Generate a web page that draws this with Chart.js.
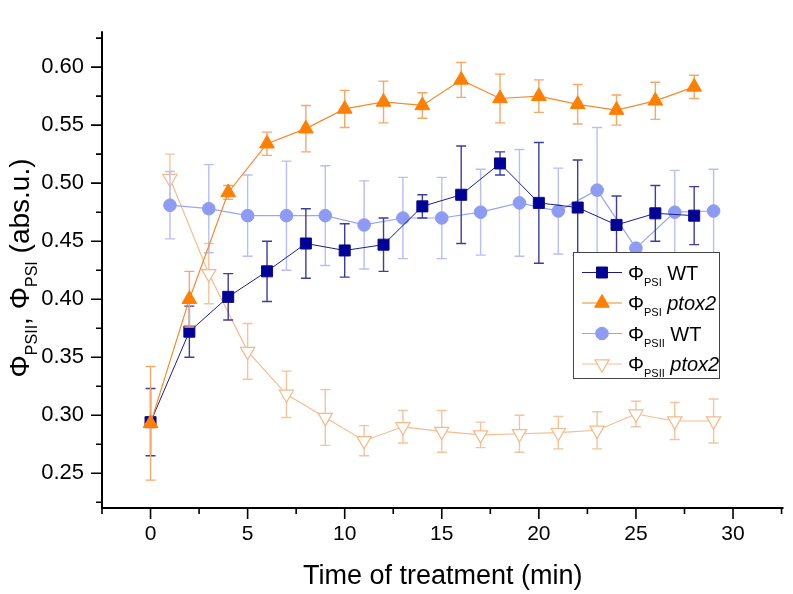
<!DOCTYPE html>
<html>
<head>
<meta charset="utf-8">
<script src="https://cdn.jsdelivr.net/npm/chart.js@4.4.1/dist/chart.umd.min.js"></script>
<style>
  html, body { margin: 0; padding: 0; background: #fff; }
  #wrap { width: 793px; height: 594px; }
</style>
</head>
<body>
<div id="wrap"><canvas id="chart" width="793" height="594"></canvas></div>
<script>
// time points (min)
const timePSI = [0, 2, 4, 6, 8, 10, 12, 14, 16, 18, 20, 22, 24, 26, 28];
const timePSII = [1, 3, 5, 7, 9, 11, 13, 15, 17, 19, 21, 23, 25, 27, 29];

// Φ PSI
const psiWT = [0.294, 0.372, 0.402, 0.424, 0.448, 0.442, 0.447, 0.480, 0.490, 0.517, 0.483, 0.479, 0.464, 0.474, 0.472];
const psiWTErr = [0.029, 0.022, 0.020, 0.026, 0.030, 0.023, 0.023, 0.010, 0.042, 0.010, 0.052, 0.041, 0.025, 0.024, 0.025];
const psiPtox2 = [0.293, 0.400, 0.492, 0.534, 0.547, 0.564, 0.570, 0.567, 0.589, 0.573, 0.575, 0.568, 0.563, 0.571, 0.583];
const psiPtox2Err = [0.049, 0.024, 0.006, 0.010, 0.020, 0.016, 0.018, 0.011, 0.015, 0.021, 0.014, 0.017, 0.013, 0.016, 0.010];

// Φ PSII
const psiiWT = [0.481, 0.478, 0.472, 0.472, 0.472, 0.464, 0.470, 0.470, 0.475, 0.483, 0.476, 0.494, 0.444, 0.475, 0.476];
const psiiWTErr = [0.029, 0.038, 0.035, 0.047, 0.043, 0.038, 0.035, 0.035, 0.037, 0.046, 0.037, 0.054, 0, 0.036, 0.036];
const psiiPtox2 = [0.504, 0.422, 0.355, 0.318, 0.298, 0.278, 0.290, 0.286, 0.283, 0.284, 0.285, 0.287, 0.301, 0.295, 0.295];
const psiiPtox2Err = [0.021, 0.026, 0.024, 0.020, 0.024, 0.013, 0.014, 0.018, 0.011, 0.016, 0.014, 0.016, 0.011, 0.016, 0.019];

// axis ticks
const xTicks = [0, 5, 10, 15, 20, 25, 30];
const xMinorTicks = [-2.5, 2.5, 7.5, 12.5, 17.5, 22.5, 27.5, 32.5];
const yTicks = [0.25, 0.30, 0.35, 0.40, 0.45, 0.50, 0.55, 0.60];
const yMinorTicks = [0.225, 0.275, 0.325, 0.375, 0.425, 0.475, 0.525, 0.575, 0.625];

const FONT = '"Liberation Sans", Arial, sans-serif';

function pts(xs, ys) {
    return xs.map((x, i) => ({ x: x, y: ys[i] }));
}

const datasets = [
    {
        label: 'PSI WT', sub: 'PSI', name: 'WT', italic: false,
        data: pts(timePSI, psiWT), err: psiWTErr, errColor: '#3d3d9e',
        borderColor: '#1c1c8c', borderWidth: 1,
        pointStyle: 'rect', pointRadius: 7.8, pointBackgroundColor: '#000099', pointBorderColor: '#0a0a8a', pointBorderWidth: 1,
        order: 2
    },
    {
        label: 'PSI ptox2', sub: 'PSI', name: 'ptox2', italic: true,
        data: pts(timePSI, psiPtox2), err: psiPtox2Err, errColor: '#f5a868',
        borderColor: '#f58a2c', borderWidth: 1.2,
        pointStyle: 'triangle', pointRadius: 8.5, pointBackgroundColor: '#ff7f00', pointBorderColor: '#ff7f00', pointBorderWidth: 1,
        order: 1
    },
    {
        label: 'PSII WT', sub: 'PSII', name: 'WT', italic: false,
        data: pts(timePSII, psiiWT), err: psiiWTErr, errColor: '#b7bff5',
        borderColor: '#9aa5f2', borderWidth: 1.2,
        pointStyle: 'circle', pointRadius: 6.3, pointBackgroundColor: '#8d9bf4', pointBorderColor: '#8d9bf4', pointBorderWidth: 1,
        order: 3
    },
    {
        label: 'PSII ptox2', sub: 'PSII', name: 'ptox2', italic: true,
        data: pts(timePSII, psiiPtox2), err: psiiPtox2Err, errColor: '#f6c49c',
        borderColor: '#f5bd8e', borderWidth: 1.2,
        pointStyle: 'triangle', pointRotation: 180, pointRadius: 8.2, pointBackgroundColor: '#ffffff', pointBorderColor: '#f5b989', pointBorderWidth: 1.2,
        order: 4
    }
];

// error bars, drawn under each series
const errorBars = {
    id: 'errorBars',
    beforeDatasetDraw(chart, args) {
        const ds = chart.data.datasets[args.index];
        if (!ds.err) return;
        const ctx = chart.ctx;
        const y = chart.scales.y;
        ctx.save();
        ctx.strokeStyle = ds.errColor;
        ctx.lineWidth = 1.4;
        args.meta.data.forEach((p, i) => {
            const e = ds.err[i];
            if (!e) return;
            const v = ds.data[i].y;
            const top = y.getPixelForValue(v + e);
            const bot = y.getPixelForValue(v - e);
            ctx.beginPath();
            ctx.moveTo(p.x, top); ctx.lineTo(p.x, bot);
            ctx.moveTo(p.x - 5, top); ctx.lineTo(p.x + 5, top);
            ctx.moveTo(p.x - 5, bot); ctx.lineTo(p.x + 5, bot);
            ctx.stroke();
        });
        ctx.restore();
    }
};

// text made of pieces (normal / subscript / italic)
function richWidth(ctx, parts) {
    let w = 0;
    parts.forEach(p => { ctx.font = p.font; w += ctx.measureText(p.t).width; });
    return w;
}
function drawRich(ctx, parts, x, y) {
    parts.forEach(p => {
        ctx.font = p.font;
        ctx.fillText(p.t, x, y + (p.dy || 0));
        x += ctx.measureText(p.t).width;
    });
}

const axesAndLegend = {
    id: 'axesAndLegend',
    afterDraw(chart) {
        const { ctx, chartArea: a, scales: { x, y } } = chart;
        ctx.save();
        // axis lines
        ctx.strokeStyle = '#000';
        ctx.lineWidth = 2;
        ctx.beginPath();
        ctx.moveTo(a.left, a.top);
        ctx.lineTo(a.left, a.bottom);
        ctx.lineTo(a.right, a.bottom);
        ctx.stroke();
        // ticks
        ctx.lineWidth = 1.6;
        ctx.beginPath();
        xTicks.forEach(v => { const px = x.getPixelForValue(v); ctx.moveTo(px, a.bottom); ctx.lineTo(px, a.bottom + 11); });
        xMinorTicks.forEach(v => { const px = x.getPixelForValue(v); ctx.moveTo(px, a.bottom); ctx.lineTo(px, a.bottom + 6); });
        yTicks.forEach(v => { const py = y.getPixelForValue(v); ctx.moveTo(a.left, py); ctx.lineTo(a.left - 11, py); });
        yMinorTicks.forEach(v => { const py = y.getPixelForValue(v); ctx.moveTo(a.left, py); ctx.lineTo(a.left - 6, py); });
        ctx.stroke();

        ctx.fillStyle = '#000';
        ctx.textBaseline = 'alphabetic';
        ctx.textAlign = 'left';

        // x title
        const xt = [{ t: 'Time of treatment (min)', font: '27px ' + FONT }];
        const xw = richWidth(ctx, xt);
        drawRich(ctx, xt, (a.left + a.right) / 2 - xw / 2, 584);

        // y title
        const big = '28px ' + FONT, sub = '16px ' + FONT;
        const yt = [
            { t: 'Φ', font: big }, { t: 'PSII', font: sub, dy: 8 }, { t: ', ', font: big },
            { t: 'Φ', font: big }, { t: 'PSI', font: sub, dy: 8 }, { t: ' (abs.u.)', font: big }
        ];
        const yw = richWidth(ctx, yt);
        ctx.save();
        ctx.translate(29, 268);
        ctx.rotate(-Math.PI / 2);
        drawRich(ctx, yt, -yw / 2, 0);
        ctx.restore();

        // legend
        const lx = 573, ly = 252, lw = 146, lh = 126;
        ctx.fillStyle = '#fff';
        ctx.fillRect(lx, ly, lw, lh);
        ctx.strokeStyle = '#444';
        ctx.lineWidth = 1;
        ctx.strokeRect(lx + 0.5, ly + 0.5, lw, lh);
        chart.data.datasets.forEach((ds, i) => {
            const cy = 272.5 + i * 30.5;
            ctx.strokeStyle = ds.borderColor;
            ctx.lineWidth = ds.borderWidth;
            ctx.beginPath();
            ctx.moveTo(582, cy); ctx.lineTo(622, cy);
            ctx.stroke();
            ctx.fillStyle = ds.pointBackgroundColor;
            ctx.strokeStyle = ds.pointBorderColor;
            ctx.lineWidth = ds.pointBorderWidth;
            Chart.helpers.drawPoint(ctx, {
                pointStyle: ds.pointStyle, rotation: ds.pointRotation || 0,
                radius: ds.pointRadius, borderWidth: ds.pointBorderWidth
            }, 602, cy);
            ctx.fillStyle = '#000';
            const lbl = [
                { t: 'Φ', font: '20px ' + FONT },
                { t: ds.sub, font: '11px ' + FONT, dy: 6 },
                { t: ' ' + ds.name, font: (ds.italic ? 'italic ' : '') + '20px ' + FONT }
            ];
            drawRich(ctx, lbl, 628, cy + 7);
        });
        ctx.restore();
    }
};

new Chart(document.getElementById('chart'), {
    type: 'line',
    data: { datasets: datasets },
    options: {
        responsive: false,
        animation: false,
        devicePixelRatio: 1,
        layout: { padding: { top: 3, right: 3, left: 0, bottom: 0 } },
        plugins: { legend: { display: false }, tooltip: { enabled: false } },
        elements: { line: { tension: 0 } },
        scales: {
            x: {
                type: 'linear', min: -2.5, max: 32.6,
                grid: { display: false, drawTicks: false },
                border: { display: false },
                afterBuildTicks: s => { s.ticks = xTicks.map(v => ({ value: v })); },
                afterFit: s => { s.height = 86; },
                ticks: { padding: 14, color: '#000', font: { family: FONT, size: 21 }, maxRotation: 0, callback: v => String(v) }
            },
            y: {
                type: 'linear', min: 0.22, max: 0.631,
                grid: { display: false, drawTicks: false },
                border: { display: false },
                afterBuildTicks: s => { s.ticks = yTicks.map(v => ({ value: v })); },
                afterFit: s => { s.width = 102; },
                ticks: { padding: 18, color: '#000', font: { family: FONT, size: 22 }, callback: v => v.toFixed(2) }
            }
        }
    },
    plugins: [errorBars, axesAndLegend]
});
</script>
</body>
</html>
